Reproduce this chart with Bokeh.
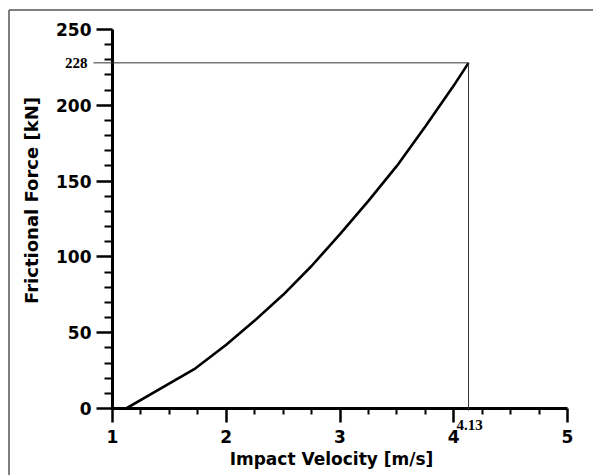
import math
from bokeh.plotting import figure
from bokeh.models import Range1d, FixedTicker
from bokeh.core.properties import value
from bokeh.embed import file_html
from bokeh.resources import INLINE

# ---- data ----
velocity = [1.12, 1.73, 2.0, 2.25, 2.5, 2.75, 3.0, 3.25, 3.5, 3.75, 4.0, 4.13]
force = [0, 26.5, 42, 58, 75, 94, 115, 137, 160, 186, 213, 228]
x_major = [1, 2, 3, 4, 5]
x_minor = [1.25, 1.5, 1.75, 2.25, 2.5, 2.75, 3.25, 3.5, 3.75, 4.25, 4.5, 4.75]
y_major = [0, 50, 100, 150, 200, 250]
y_minor = [v for v in range(0, 251, 10) if v % 50 != 0]
peak_velocity = 4.13
peak_force = 228
x_title = "Impact Velocity [m/s]"
y_title = "Frictional Force [kN]"

W, H = 593, 475
BL, BR, BT, BB = 112, 26, 29, 67
X0, X1, Y0, Y1 = 1, 5, 0, 250
sx = (W - BL - BR) / (X1 - X0)
sy = (H - BT - BB) / (Y1 - Y0)


def dx(px):
    return X0 + (px - BL) / sx


def dy(py):
    return Y0 + (H - BB - py) / sy


p = figure(width=W, height=H, output_backend="svg", toolbar_location=None,
           x_range=Range1d(X0, X1), y_range=Range1d(Y0, Y1),
           min_border_left=BL, min_border_right=BR,
           min_border_top=BT, min_border_bottom=BB)
p.outline_line_color = None
p.grid.visible = False
p.background_fill_color = "white"
p.border_fill_color = "white"

tick_font = "DejaVu Sans"
for ax, mj, mn, mo, no, so in ((p.xaxis[0], x_major, x_minor, 14, 6, 7),
                               (p.yaxis[0], y_major, y_minor, 16, 8, 5)):
    ax.ticker = FixedTicker(ticks=mj, minor_ticks=mn)
    ax.axis_line_width = 3
    ax.axis_line_color = "black"
    ax.major_tick_line_width = 2.5
    ax.minor_tick_line_width = 2
    ax.major_tick_line_color = "black"
    ax.minor_tick_line_color = "black"
    ax.major_tick_in = 0
    ax.minor_tick_in = 0
    ax.major_tick_out = mo
    ax.minor_tick_out = no
    ax.major_label_text_font = tick_font
    ax.major_label_text_font_style = "bold"
    ax.major_label_text_font_size = "17px"
    ax.major_label_text_color = "black"
    ax.major_label_standoff = so

# reference lines at the peak
p.segment(x0=[dx(93), peak_velocity], y0=[peak_force, peak_force],
          x1=[peak_velocity, peak_velocity], y1=[peak_force, dy(410)],
          line_color="#333333", line_width=1, level="overlay")

# curve
p.line(velocity, force, line_color="black", line_width=2.6)

# peak labels
p.text(x=[dx(87)], y=[peak_force], text=[str(peak_force)],
       text_align="right", text_baseline="middle",
       text_font=value("Liberation Serif"), text_font_style="bold",
       text_font_size="15px", text_color="black", level="overlay")
p.text(x=[peak_velocity + 0.01], y=[dy(419)], text=[f"{peak_velocity:.2f}"],
       text_align="center", text_baseline="top",
       text_font=value("Liberation Serif"), text_font_style="bold",
       text_font_size="15px", text_color="black", level="overlay")

# axis titles
p.text(x=[dx(331)], y=[dy(458)], text=[x_title],
       text_align="center", text_baseline="alphabetic",
       text_font=value(tick_font), text_font_style="bold",
       text_font_size="17px", text_color="black", level="overlay")
p.text(x=[dx(31)], y=[dy(200)], text=[y_title], angle=math.pi / 2,
       text_align="center", text_baseline="alphabetic",
       text_font=value(tick_font), text_font_style="bold",
       text_font_size="18px", text_color="black", level="overlay")

# outer border (left and top edges)
p.segment(x0=[dx(8.5), dx(8.5)], y0=[dy(9.5), dy(9.5)],
          x1=[dx(W + 5), dx(8.5)], y1=[dy(9.5), dy(H + 5)],
          line_color="#555555", line_width=1.5, level="overlay")

open("out.html", "w").write(file_html(p, INLINE))
